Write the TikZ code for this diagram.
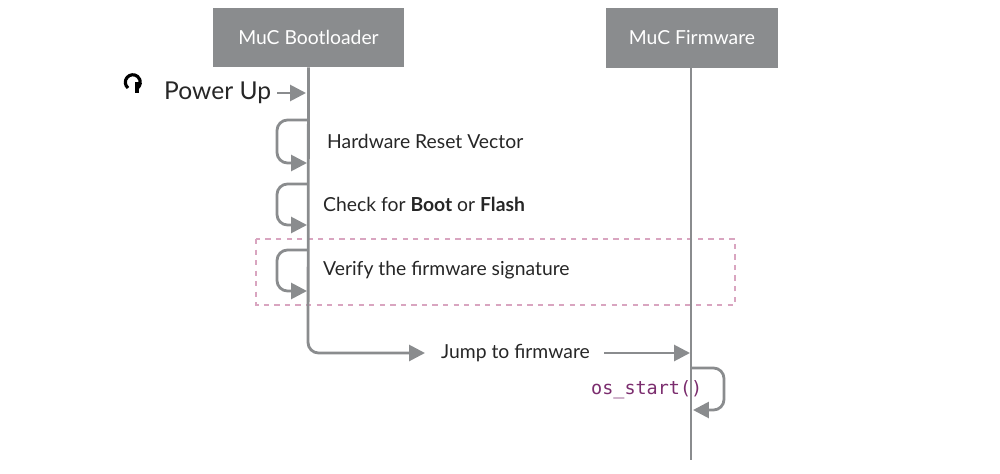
\documentclass[tikz,border=0pt]{standalone}
\usepackage{fontspec}
\setmainfont{Lato}
\setmonofont{DejaVu Sans Mono}
\usetikzlibrary{arrows.meta}
\definecolor{linegray}{HTML}{8A8C8E}
\definecolor{boxpink}{HTML}{D9A5C0}
\definecolor{codepurple}{HTML}{7B2D6E}
\tikzset{
    lifebox/.style={fill=linegray, text=white, inner sep=0pt, font=\fontsize{11}{13}\selectfont},
    msg/.style={linegray, line width=1.6pt, -{Triangle[length=9pt,width=9pt]}, rounded corners=6pt},
    lbl/.style={anchor=west, font=\fontsize{11}{13}\selectfont, text=black!85}
}
\begin{document}
\begin{tikzpicture}[x=0.02cm, y=-0.02cm]
        \useasboundingbox (0,0) rectangle (1000,473);

        % Lifeline heads
        \node[lifebox, minimum width=191*0.02cm, minimum height=59*0.02cm] (boot) at (308.5,37.5) {MuC Bootloader};
        \node[lifebox, minimum width=172*0.02cm, minimum height=60*0.02cm] (fw) at (692,38) {MuC Firmware};

        % Dashed frame
        \draw[boxpink, dashed, line width=0.8pt] (256,239) rectangle (735,305);

        % Lifelines (the bootloader one ends in the jump)
        \coordinate (bootjump) at (425,353);
        \coordinate (fwend) at (691,460);
        \draw[msg] (boot.south) -- (308,353) -- (bootjump);
        \draw[linegray, line width=1.6pt] (fw.south -| fwend) -- (fwend);

        % Power up
        \draw[black, line width=1.8pt] (128,88) arc (130:410:7.5);
        \draw[black, line width=1.8pt] (137,82) -- (137,93);
        \node[lbl, font=\fontsize{14}{16}\selectfont] (power) at (158,93) {Power Up};
        \coordinate (powerin) at (306,93);
        \draw[msg] (power.east) -- (powerin);

        % Self messages
        \foreach \ya/\yb/\name/\txt/\tx in {
            120/163/reset/{Hardware Reset Vector}/321,
            184/225/check/{Check for \textbf{Boot} or \textbf{Flash}}/317,
            250/291/verify/{Verify the firmware signature}/317
        } {
            \coordinate (\name a) at (308,\ya);
            \coordinate (\name b) at (307,\yb);
            \draw[msg] (\name a) -- (277,\ya) -- (277,\yb) -- (\name b);
            \node[lbl] (\name) at (\tx,{(\ya+\yb)/2}) {\txt};
        }

        % Jump to firmware
        \node[lbl] (jump) at (435,353) {Jump to firmware};
        \coordinate (fwin) at (690,353);
        \draw[msg] (jump.east) ++(8,0) -- (fwin);

        % os_start
        \coordinate (osa) at (691,368);
        \coordinate (osb) at (693,410);
        \draw[msg] (osa) -- (724,368) -- (724,410) -- (osb);
        \node[lbl, font=\ttfamily\fontsize{10.5}{12}\selectfont, text=codepurple] (os) at (585,390) {os\_start()};
    \end{tikzpicture}
\end{document}
